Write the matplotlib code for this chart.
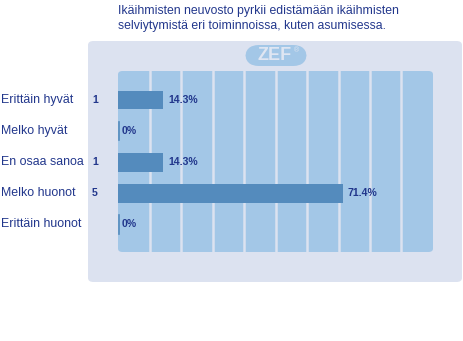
import matplotlib
matplotlib.use("Agg")
import matplotlib.pyplot as plt
from matplotlib.patches import FancyBboxPatch

categories = ["Erittäin hyvät", "Melko hyvät", "En osaa sanoa", "Melko huonot", "Erittäin huonot"]
counts = [1, 0, 1, 5, 0]
percents = [14.3, 0, 14.3, 71.4, 0]
pct_labels = ["14.3%", "0%", "14.3%", "71.4%", "0%"]
title_lines = ["Ikäihmisten neuvosto pyrkii edistämään ikäihmisten",
               "selviytymistä eri toiminnoissa, kuten asumisessa."]

W, H = 463, 341
TXT = "#22378c"
PANEL = "#dce2f0"
INNER = "#a3c7e7"
BAR = "#548bbd"

plt.rcParams['font.family'] = ['Liberation Sans', 'DejaVu Sans']

fig = plt.figure(figsize=(W / 100, H / 100), dpi=100)
fig.patch.set_facecolor("white")

def fx(x):
    return x / W

def fy(y):
    return 1 - y / H

# outer panel
fig.patches.append(FancyBboxPatch((fx(88), fy(282)), fx(462) - fx(88), fy(41) - fy(282),
                                  boxstyle="round,pad=0,rounding_size=0.012",
                                  transform=fig.transFigure, facecolor=PANEL, edgecolor="none", zorder=-2))
# inner plot area
fig.patches.append(FancyBboxPatch((fx(118), fy(252)), fx(433) - fx(118), fy(71) - fy(252),
                                  boxstyle="round,pad=0,rounding_size=0.01",
                                  transform=fig.transFigure, facecolor=INNER, edgecolor="none", zorder=-1))
# ZEF logo pill
fig.patches.append(FancyBboxPatch((fx(245), fy(66)), fx(307) - fx(245), fy(45) - fy(66),
                                  boxstyle="round,pad=0,rounding_size=0.03",
                                  transform=fig.transFigure, facecolor=INNER, edgecolor="none", zorder=-1,
                                  mutation_aspect=W / H))
fig.text(fx(275), fy(56), "ZEF", ha="center", va="center", fontsize=13, fontweight="bold",
         color="#dfe6f2")
fig.text(fx(296), fy(51), "®", ha="center", va="center", fontsize=5, color="#dfe6f2")

# title
for i, line in enumerate(title_lines):
    fig.text(fx(118), fy(11 + 15 * i), line, ha="left", va="center", fontsize=8.85, color=TXT)

ax = fig.add_axes([fx(118), fy(252), fx(433) - fx(118), fy(71) - fy(252)])
ax.set_zorder(1)
ax.set_facecolor("none")
ax.set_xlim(0, 100)
ax.set_ylim(4.90, -0.935)
for v in range(10, 100, 10):
    ax.axvline(v, color=PANEL, lw=1.8, zorder=1)

ypos = list(range(len(categories)))
ax.barh(ypos, percents, height=0.61, color=BAR, zorder=2)
for y, p in zip(ypos, percents):
    if p == 0:
        ax.plot([0.25, 0.25], [y - 0.305, y + 0.305], color=BAR, lw=1.2, zorder=2)

for y, p, lab, c, cat in zip(ypos, percents, pct_labels, counts, categories):
    ax.annotate(lab, (p, y), xytext=(3.6 if p > 0 else 2.8, 0), textcoords="offset points",
                ha="left", va="center", fontsize=7.6, fontweight="bold", color=TXT)
    if c > 0:
        ax.annotate(str(c), (0, y), xytext=(-26 * 0.72, 0), textcoords="offset points",
                    ha="left", va="center", fontsize=7.6, fontweight="bold", color=TXT)
    ax.annotate(cat, (0, y), xycoords=("figure fraction", "data"), xytext=(1 * 0.72, 0),
                textcoords="offset points", ha="left", va="center", fontsize=8.9, color=TXT)

ax.set_xticks([])
ax.set_yticks([])
for s in ax.spines.values():
    s.set_visible(False)

fig.savefig("out.png", dpi=100, facecolor="white")
